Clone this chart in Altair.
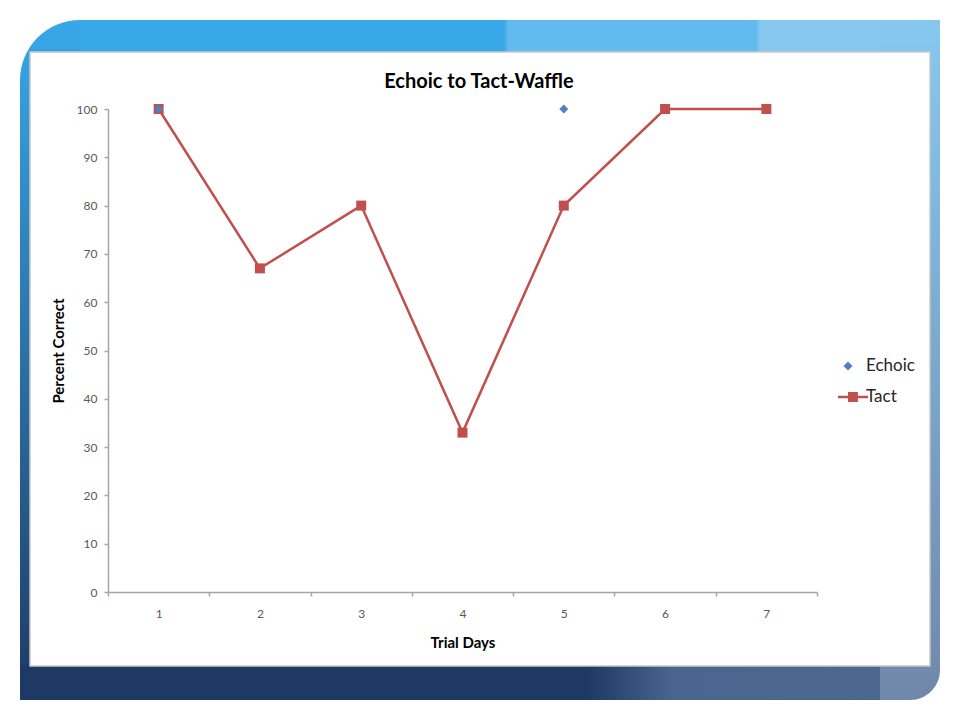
import altair as alt
import pandas as pd

# ---- data ----
days = [1, 2, 3, 4, 5, 6, 7]
tact = [100, 67, 80, 33, 80, 100, 100]
echoic_days = [1, 5]
echoic_vals = [100, 100]
series = ["Echoic", "Tact"]
series_colors = ["#4F81BD", "#C0504D"]
y_ticks = list(range(0, 101, 10))
chart_title = "Echoic to Tact-Waffle"

tact_df = pd.DataFrame({"day": days, "value": tact, "series": "Tact"})
echoic_df = pd.DataFrame({"day": echoic_days, "value": echoic_vals, "series": "Echoic"})
legend_df = pd.DataFrame({"series": series})

FONT = "Lato"
W, H = 709, 483
PL, PT = 100, 101          # plot origin at page (108, 109)
OX, OY = 8 + PL, 8 + PT

def deco(x1, y1, x2, y2, fill, **kw):
    return alt.Chart(alt.Data(values=[{}])).mark_rect(fill=fill, **kw).encode(
        x=alt.value(x1 - OX), x2=alt.value(x2 - OX),
        y=alt.value(y1 - OY), y2=alt.value(y2 - OY))

def vgrad(c1, c2):
    return alt.LinearGradient(gradient="linear", x1=0, y1=0, x2=0, y2=1,
                              stops=[alt.GradientStop(color=c1, offset=0),
                                     alt.GradientStop(color=c2, offset=1)])

def hstops(pairs):
    return alt.LinearGradient(gradient="linear", x1=0, y1=0, x2=1, y2=0,
                              stops=[alt.GradientStop(color=c, offset=o) for o, c in pairs])

frame = [
    deco(20, 20, 940, 700, vgrad("#38A8E8", "#1E3A64"),
         cornerRadiusTopLeft=60, cornerRadiusBottomRight=50),
    deco(20, 666, 880, 700, hstops([(0, "#1E3A64"), (0.66, "#1E3A64"), (0.76, "#4A6690"), (1, "#4C6890")])),
    deco(880, 20, 940, 700, vgrad("#86C8F0", "#7088AA"), cornerRadiusBottomRight=50),
    deco(80, 20, 880, 52, hstops([(0, "#38A8E8"), (0.53, "#38A8E8"), (0.535, "#62BAEE"),
                                  (0.845, "#62BAEE"), (0.85, "#86C8F0"), (1, "#86C8F0")])),
    deco(30, 52, 930, 666, "white", stroke="#C8C8C8", strokeWidth=1.5),
]

title_layer = alt.Chart(alt.Data(values=[{"t": chart_title}])).mark_text(
    font=FONT, fontSize=20, fontWeight="bold", color="#000000",
    align="center", baseline="alphabetic").encode(
    text="t:N", x=alt.value(479 - OX), y=alt.value(88 - OY))

x_enc = alt.X("day:O", title="Trial Days",
              scale=alt.Scale(type="band", domain=days, paddingInner=0, paddingOuter=0),
              axis=alt.Axis(labelAngle=0, tickBand="extent", tickSize=4, labelPadding=12,
                            titlePadding=16, zindex=1))
y_enc = alt.Y("value:Q", title="Percent Correct",
              scale=alt.Scale(domain=[0, 100], nice=False),
              axis=alt.Axis(values=y_ticks, grid=False, tickSize=4, labelPadding=7,
                            titlePadding=10, zindex=1))

tact_line = alt.Chart(tact_df).mark_line(color="#C0504D", strokeWidth=2.5).encode(x=x_enc, y=y_enc)
tact_pts = alt.Chart(tact_df).mark_point(shape="square", filled=True, size=100,
                                         color="#C0504D", opacity=1).encode(x=x_enc, y=y_enc)
echoic_pts = alt.Chart(echoic_df).mark_point(shape="diamond", filled=True, size=80,
                                             color="#4F81BD", opacity=1).encode(x=x_enc, y=y_enc)

diamond_path = "M-0.2,-0.3L0.1,0L-0.2,0.3L-0.5,0Z"
tact_path = "M-0.87,-0.083H1.13V0.083H-0.87Z M-0.2,-0.33H0.46V0.33H-0.2Z"

legend_layer = alt.Chart(legend_df).mark_point(filled=True, opacity=1).encode(
    color=alt.Color("series:N", title=None,
                    scale=alt.Scale(domain=series, range=series_colors),
                    legend=alt.Legend(orient="none", legendX=728, legendY=242,
                                      symbolSize=900, symbolStrokeWidth=0,
                                      labelFont=FONT, labelFontSize=17, labelColor="#262626",
                                      labelOffset=0, rowPadding=8, padding=0)),
    shape=alt.Shape("series:N", title=None,
                    scale=alt.Scale(domain=series, range=[diamond_path, tact_path])),
).transform_filter("false")

chart = alt.layer(*frame, title_layer, tact_line, tact_pts, echoic_pts, legend_layer).properties(
    width=W, height=H,
    autosize=alt.AutoSizeParams(type="none"),
    padding={"left": PL, "top": PT, "right": 960 - 16 - PL - W - 1, "bottom": 720 - 16 - PT - H - 2},
).configure(background="white").configure_view(stroke=None).configure_axis(
    labelFont=FONT, labelFontSize=12, labelColor="#595959",
    titleFont=FONT, titleFontSize=15, titleFontWeight="bold", titleColor="#000000",
    domainColor="#A6A6A6", tickColor="#A6A6A6", domainWidth=1.5, tickWidth=1.5,
)

chart.save("out.html", embed_options={"renderer": "svg", "actions": False})
